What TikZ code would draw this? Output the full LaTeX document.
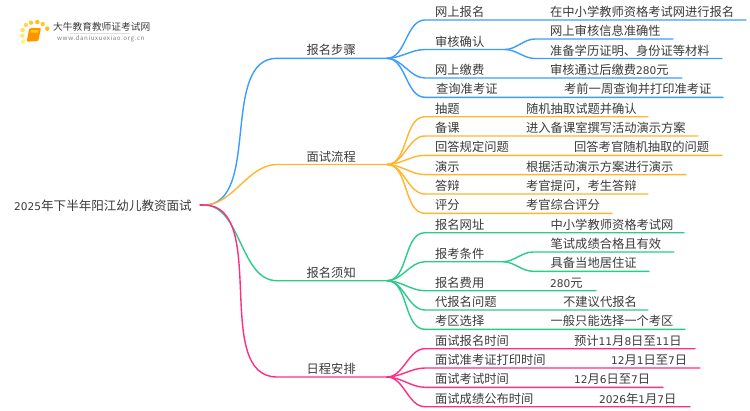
\documentclass[tikz,border=0pt]{standalone}
\usepackage{fontspec}
\setmainfont{Noto Sans CJK SC}
\newfontfamily\digitfont{DejaVu Sans}
\newcommand{\D}[1]{{\digitfont\fontsize{10.6}{13}\selectfont #1}}
\definecolor{stepblue}{HTML}{3B9BFF}
\definecolor{floworange}{HTML}{FFB52E}
\definecolor{noticegreen}{HTML}{2BCB8C}
\definecolor{schedpink}{HTML}{FF2D86}
\definecolor{inkgray}{HTML}{3A3A3A}

\begin{document}
\begin{tikzpicture}[x=1pt,y=-1pt,line cap=round,
  txt/.style={anchor=base west,inner sep=0pt,text=inkgray,
  yshift=-0.6pt,font=\fontsize{12.27}{15}\selectfont},
  conn/.style={line width=1.4pt},
  curve/.style={out=0,in=180,looseness=0.9},
  dot/.style={circle,fill=#1,inner sep=0pt,minimum size=4.5pt}]

  \useasboundingbox (0,0) rectangle (750,410);

  % logo
  \foreach \px/\py/\c in {31/22.7/70,37.3/22/80,42.7/24/70,47.3/28.7/85,26/25/50,22.7/30/35,22.3/35.7/25,23.3/41.7/15}
    \node[dot=orange!\c!white!60!yellow] at (\px,\py) {};
  \fill[orange!85!yellow,rounded corners=1pt] (29.3,28.3) -- (41,28) -- (38.3,41) -- (26.7,41.7) -- cycle;
  \fill[orange!40!yellow] (31,30) -- (38.5,30) -- (38,32.5) -- (30.5,32.5) -- cycle;
  \draw[gray!25,line width=0.8pt] (70,33.5) -- (130,33.5);
  \node[anchor=west,inner sep=0pt,text=inkgray,font=\fontsize{9.7}{11}\selectfont] (brand) at (53,26.7) {大牛教育教师证考试网};
  \node[anchor=west,inner sep=0pt,text=gray,font=\fontsize{6.2}{8}\selectfont\addfontfeatures{LetterSpace=9}] (site) at (57,39) {www.daniuxuexiao.org.cn};

  % root
  \node[txt,font=\fontsize{12.55}{15}\selectfont] (root) at (14,209.5) {\D{2025}年下半年阳江幼儿教资面试};
  \coordinate (hub) at (204,205);
  \coordinate (stub) at (200,205);

  \coordinate (step) at (277,58.3);
  \coordinate (stepj) at (387,58.3);
  \coordinate (flow) at (277,164.5);
  \coordinate (flowj) at (387,164.5);
  \coordinate (notice) at (277,280.7);
  \coordinate (noticej) at (387,280.7);
  \coordinate (sched) at (277,377);
  \coordinate (schedj) at (387,377);

  \draw[conn,schedpink] (stub) -- (hub);
  \draw[conn,stepblue] (hub) to[curve] (step) -- (stepj);
  \draw[conn,floworange] (hub) to[curve] (flow) -- (flowj);
  \draw[conn,noticegreen] (hub) to[curve] (notice) -- (noticej);
  \draw[conn,schedpink] (hub) to[curve] (sched) -- (schedj);

  \node[txt] (stept) at (306.5,54.3) {报名步骤};
  \node[txt] (flowt) at (306.5,160.5) {面试流程};
  \node[txt] (noticet) at (306.5,276.7) {报名须知};
  \node[txt] (schedt) at (306.5,373) {日程安排};

  % blue branch
  \coordinate (s1) at (425,20);      \coordinate (s1r) at (746,20);
  \coordinate (s2) at (425,49.5);    \coordinate (s2j) at (505,49.5);
  \coordinate (s2a) at (535,39);     \coordinate (s2ar) at (673,39);
  \coordinate (s2b) at (535,58.5);   \coordinate (s2br) at (722,58.5);
  \coordinate (s3) at (425,78);      \coordinate (s3r) at (682,78);
  \coordinate (s4) at (425,97.3);    \coordinate (s4r) at (723,97.3);
  \draw[conn,stepblue] (stepj) to[curve] (s1) -- (s1r);
  \draw[conn,stepblue] (stepj) to[curve] (s2) -- (s2j);
  \draw[conn,stepblue] (s2j) to[curve] (s2a) -- (s2ar);
  \draw[conn,stepblue] (s2j) to[curve] (s2b) -- (s2br);
  \draw[conn,stepblue] (stepj) to[curve] (s3) -- (s3r);
  \draw[conn,stepblue] (stepj) to[curve] (s4) -- (s4r);
  \node[txt] (s1t) at (435,16) {网上报名};
  \node[txt] (s1d) at (550,16) {在中小学教师资格考试网进行报名};
  \node[txt] (s2t) at (435,45.5) {审核确认};
  \node[txt] (s2at) at (550,35) {网上审核信息准确性};
  \node[txt] (s2bt) at (550,54.5) {准备学历证明、身份证等材料};
  \node[txt] (s3t) at (435,74) {网上缴费};
  \node[txt] (s3d) at (550,74) {审核通过后缴费\D{280}元};
  \node[txt] (s4t) at (436,93.3) {查询准考证};
  \node[txt] (s4d) at (564,93.3) {考前一周查询并打印准考证};

  % orange branch
  \coordinate (f1) at (425,116.7);   \coordinate (f1r) at (648,116.7);
  \coordinate (f2) at (425,136);     \coordinate (f2r) at (698,136);
  \coordinate (f3) at (425,155.3);   \coordinate (f3r) at (722,155.3);
  \coordinate (f4) at (425,174.6);   \coordinate (f4r) at (686,174.6);
  \coordinate (f5) at (425,194);     \coordinate (f5r) at (648,194);
  \coordinate (f6) at (425,213.3);   \coordinate (f6r) at (612,213.3);
  \draw[conn,floworange] (flowj) to[curve] (f1) -- (f1r);
  \draw[conn,floworange] (flowj) to[curve] (f2) -- (f2r);
  \draw[conn,floworange] (flowj) to[curve] (f3) -- (f3r);
  \draw[conn,floworange] (flowj) to[curve] (f4) -- (f4r);
  \draw[conn,floworange] (flowj) to[curve] (f5) -- (f5r);
  \draw[conn,floworange] (flowj) to[curve] (f6) -- (f6r);
  \node[txt] (f1t) at (435,112.7) {抽题};
  \node[txt] (f1d) at (526,112.7) {随机抽取试题并确认};
  \node[txt] (f2t) at (435,132) {备课};
  \node[txt] (f2d) at (526,132) {进入备课室撰写活动演示方案};
  \node[txt] (f3t) at (435,151.3) {回答规定问题};
  \node[txt] (f3d) at (574,151.3) {回答考官随机抽取的问题};
  \node[txt] (f4t) at (435,170.6) {演示};
  \node[txt] (f4d) at (526,170.6) {根据活动演示方案进行演示};
  \node[txt] (f5t) at (435,190) {答辩};
  \node[txt] (f5d) at (526,190) {考官提问，考生答辩};
  \node[txt] (f6t) at (435,209.3) {评分};
  \node[txt] (f6d) at (526,209.3) {考官综合评分};

  % green branch
  \coordinate (n1) at (425,232.7);   \coordinate (n1r) at (684,232.7);
  \coordinate (n2) at (425,261.7);   \coordinate (n2j) at (503,261.7);
  \coordinate (n2a) at (533,252);    \coordinate (n2ar) at (674,252);
  \coordinate (n2b) at (533,271.3);  \coordinate (n2br) at (649,271.3);
  \coordinate (n3) at (425,290.7);   \coordinate (n3r) at (596,290.7);
  \coordinate (n4) at (425,310);     \coordinate (n4r) at (648,310);
  \coordinate (n5) at (425,329.3);   \coordinate (n5r) at (685,329.3);
  \draw[conn,noticegreen] (noticej) to[curve] (n1) -- (n1r);
  \draw[conn,noticegreen] (noticej) to[curve] (n2) -- (n2j);
  \draw[conn,noticegreen] (n2j) to[curve] (n2a) -- (n2ar);
  \draw[conn,noticegreen] (n2j) to[curve] (n2b) -- (n2br);
  \draw[conn,noticegreen] (noticej) to[curve] (n3) -- (n3r);
  \draw[conn,noticegreen] (noticej) to[curve] (n4) -- (n4r);
  \draw[conn,noticegreen] (noticej) to[curve] (n5) -- (n5r);
  \node[txt] (n1t) at (435,228.7) {报名网址};
  \node[txt] (n1d) at (550.5,228.7) {中小学教师资格考试网};
  \node[txt] (n2t) at (435,257.7) {报考条件};
  \node[txt] (n2at) at (550.5,248) {笔试成绩合格且有效};
  \node[txt] (n2bt) at (550.5,267.3) {具备当地居住证};
  \node[txt] (n3t) at (435,286.7) {报名费用};
  \node[txt] (n3d) at (550,286.7) {\D{280}元};
  \node[txt] (n4t) at (435,306) {代报名问题};
  \node[txt] (n4d) at (563,306) {不建议代报名};
  \node[txt] (n5t) at (435,325.3) {考区选择};
  \node[txt] (n5d) at (550.5,325.3) {一般只能选择一个考区};

  % pink branch
  \coordinate (d1) at (425,348.7);   \coordinate (d1r) at (695,348.7);
  \coordinate (d2) at (425,368);     \coordinate (d2r) at (700,368);
  \coordinate (d3) at (425,387.3);   \coordinate (d3r) at (663,387.3);
  \coordinate (d4) at (425,406.7);   \coordinate (d4r) at (690,406.7);
  \draw[conn,schedpink] (schedj) to[curve] (d1) -- (d1r);
  \draw[conn,schedpink] (schedj) to[curve] (d2) -- (d2r);
  \draw[conn,schedpink] (schedj) to[curve] (d3) -- (d3r);
  \draw[conn,schedpink] (schedj) to[curve] (d4) -- (d4r);
  \node[txt] (d1t) at (435,344.7) {面试报名时间};
  \node[txt] (d1d) at (574,344.7) {预计\D{11}月\D{8}日至\D{11}日};
  \node[txt] (d2t) at (435,364) {面试准考证打印时间};
  \node[txt] (d2d) at (611,364) {\D{12}月\D{1}日至\D{7}日};
  \node[txt] (d3t) at (435,383.3) {面试考试时间};
  \node[txt] (d3d) at (574,383.3) {\D{12}月\D{6}日至\D{7}日};
  \node[txt] (d4t) at (435,402.7) {面试成绩公布时间};
  \node[txt] (d4d) at (599,402.7) {\D{2026}年\D{1}月\D{7}日};

\end{tikzpicture}
\end{document}
